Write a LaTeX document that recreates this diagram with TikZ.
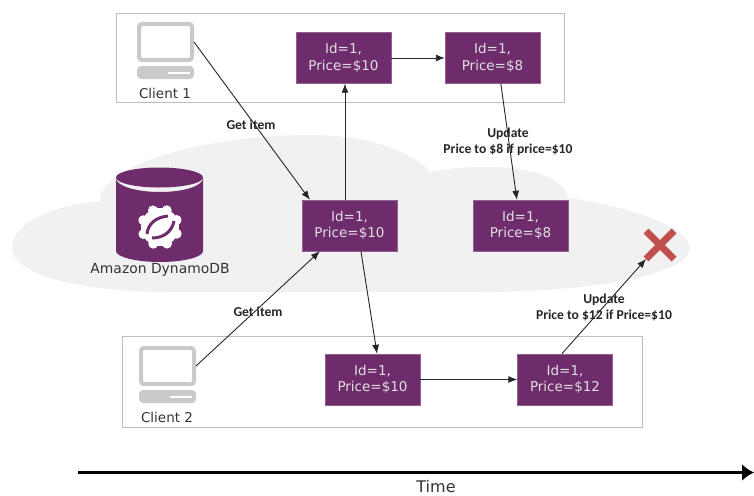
\documentclass[tikz,border=0pt]{standalone}
\usepackage{fontspec}
\setmainfont{DejaVu Sans}
\newfontfamily\notefont{Carlito}
\usetikzlibrary{shapes.misc,arrows.meta}
\definecolor{itempurple}{HTML}{6F2C6D}
\definecolor{cloudgray}{HTML}{F1F1F1}
\definecolor{icongray}{HTML}{C9CACC}
\definecolor{framegray}{HTML}{BDBDBD}
\definecolor{crossred}{HTML}{C0504D}
\tikzset{
	itembox/.style={fill=itempurple,draw=itempurple!75!white,text=white!88!black,minimum width=95pt,minimum height=51pt,inner sep=0pt,align=center,font=\fontsize{13.5}{16.5}\selectfont},
	notelabel/.style={align=center,text=black!85,font=\notefont\bfseries\fontsize{13.6}{16}\selectfont},
	iconlabel/.style={text=black!80,font=\fontsize{13.5}{15}\selectfont},
	flow/.style={-{Latex[length=9pt,width=7pt]},line width=.9pt,black!85}
}
\begin{document}
\begin{tikzpicture}[>=latex,x=1pt,y=-1pt]
	\useasboundingbox (0,0) rectangle (754,495);
	\begin{scope}
		\fill[cloudgray]
			(12,248) .. controls (12,222) and (55,205) .. (100,201)
			.. controls (100,165) and (205,135) .. (310,135)
			.. controls (365,135) and (410,150) .. (431,172)
			.. controls (450,168) and (465,167) .. (490,167)
			.. controls (530,167) and (565,178) .. (568,198)
			.. controls (620,205) and (690,225) .. (690,248)
			.. controls (690,275) and (590,292) .. (480,292)
			-- (170,292)
			.. controls (80,292) and (12,275) .. (12,248) -- cycle
		;
	\end{scope}
	\begin{scope}
		\node[draw=framegray,minimum width=448pt,minimum height=89pt,inner sep=0pt] (frameone) at (340,57.5) {};
		\node[draw=framegray,minimum width=520pt,minimum height=91pt,inner sep=0pt] (frametwo) at (382,381.5) {};
	\end{scope}
	\foreach \n/\dx/\dy in {1/0/0,2/2/324} {
		\begin{scope}[xshift=\dx pt,yshift=-\dy pt]
			\node[draw=icongray,line width=4pt,rounded corners=3pt,minimum width=53pt,minimum height=36pt,inner sep=0pt,outer sep=2pt] (screen\n) at (165.5,42) {};
			\fill[icongray,rounded corners=4pt] (137,66) rectangle (194,79);
			\fill[white] (168,71.5) rectangle (190,73.5);
			\node[iconlabel] (client\n) at (165,93) {Client \n};
		\end{scope}
	}
	\begin{scope}
		\fill[itempurple]
			(116,178) -- (116,251) .. controls (116,257) and (136,262) .. (160,262)
			.. controls (184,262) and (203,257) .. (203,251) -- (203,178)
			.. controls (203,186) and (184,192) .. (160,192)
			.. controls (136,192) and (116,186) .. (116,178) -- cycle
		;
		\fill[itempurple] (159.5,177.5) ellipse (43.5 and 10);
		\fill[white] (160,227) circle (19);
		\foreach \a in {0,45,...,315}
			\fill[white] (160,227) ++(\a+22:18) circle (5);
		\draw[itempurple,line width=3pt] (147,234) .. controls (148,223) and (157,217) .. (168,216);
		\draw[itempurple,line width=3pt] (152,238) .. controls (163,238) and (172,232) .. (174,221);
		\node[iconlabel,font=\fontsize{13.9}{15}\selectfont] (dblabel) at (160,270) {Amazon DynamoDB};
	\end{scope}
	\begin{scope}
		\node[itembox] (oneread) at (343.5,58) {Id=1,\\Price=\$10};
		\node[itembox] (onewrite) at (492.5,58) {Id=1,\\Price=\$8};
		\node[itembox] (dbfirst) at (349.5,225.5) {Id=1,\\Price=\$10};
		\node[itembox] (dbsecond) at (520.5,225.5) {Id=1,\\Price=\$8};
		\node[itembox] (tworead) at (372.5,379.5) {Id=1,\\Price=\$10};
		\node[itembox] (twowrite) at (565,379.5) {Id=1,\\Price=\$12};
		\node[draw=crossred,cross out,line width=7pt,minimum size=20pt,inner sep=0pt,outer sep=4pt] (rejected) at (660,245) {};
	\end{scope}
	\begin{scope}
		\draw[flow] (screen1.east) -- (dbfirst.147);
		\draw[flow] (screen2.east) -- (dbfirst.221);
		\draw[flow] (dbfirst.100) -- (dbfirst.100 |- oneread.south);
		\draw[flow] (oneread) -- (onewrite);
		\draw[flow] (onewrite.288) -- (dbsecond.98);
		\draw[flow] (dbfirst.294) -- (tworead.80);
		\draw[flow] (tworead) -- (twowrite);
		\draw[flow] (twowrite.97) -- (rejected.south west);
	\end{scope}
	\begin{scope}
		\node[notelabel] (noteone) at (251,125) {Get item};
		\node[notelabel] (notetwo) at (258,312) {Get item};
		\node[notelabel] (notethree) at (508,142) {Update\\Price to \$8 if price=\$10};
		\node[notelabel] (notefour) at (604,307) {Update\\Price to \$12 if Price=\$10};
	\end{scope}
	\begin{scope}
		\coordinate (timestart) at (78,472.5);
		\coordinate (timeend) at (754,472.5);
		\draw[-{Latex[length=12pt,width=17pt]},line width=3.5pt] (timestart) -- (timeend);
		\node[iconlabel,inner sep=0pt,font=\fontsize{16}{18}\selectfont] (timelabel) at (436,486.5) {Time};
	\end{scope}
\end{tikzpicture}
\end{document}
